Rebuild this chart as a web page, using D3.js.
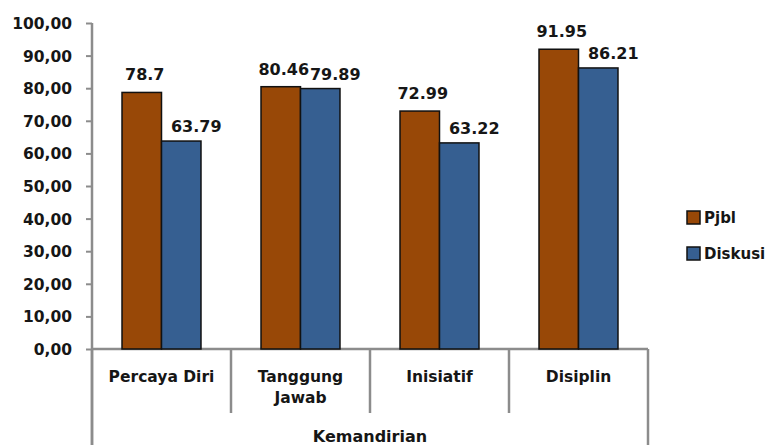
<!DOCTYPE html>
<html>
<head>
<meta charset="utf-8">
<script src="https://cdn.jsdelivr.net/npm/d3@7"></script>
<style>
  body { margin: 0; background: #fff; }
  svg text { font-family: "DejaVu Sans", "Open Sans", sans-serif; font-weight: bold; fill: #161616; }
</style>
</head>
<body>
<svg id="chart"></svg>
<script>
let width = 766;
let height = 445;

let categories = ['Percaya Diri', 'Tanggung Jawab', 'Inisiatif', 'Disiplin'];
let categoryLines = [['Percaya Diri'], ['Tanggung', 'Jawab'], ['Inisiatif'], ['Disiplin']];
let seriesNames = ['Pjbl', 'Diskusi'];
let pjbl = [78.7, 80.46, 72.99, 91.95];
let diskusi = [63.79, 79.89, 63.22, 86.21];
let pjblLabels = ['78.7', '80.46', '72.99', '91.95'];
let diskusiLabels = ['63.79', '79.89', '63.22', '86.21'];
let yTicks = [0, 10, 20, 30, 40, 50, 60, 70, 80, 90, 100];
let groupLabel = 'Kemandirian';

let colors = ['#984807', '#365F91'];
let axisColor = '#8c8c8c';
// label placement per series: horizontal shift and gap above the bar
let labelShift = { Pjbl: 3, Diskusi: 15 };
let labelGap = { Pjbl: 12, Diskusi: 9 };

let plotLeft = 92, plotRight = 648, plotTop = 23, plotBottom = 349;

let svg = d3.select('#chart').attr('width', width).attr('height', height);

let xScale = d3.scaleBand().domain(categories).range([plotLeft, plotRight]);
let xInner = d3.scaleBand().domain(seriesNames).range([0, xScale.bandwidth()]).paddingOuter(0.76);
let yScale = d3.scaleLinear().domain([0, 100]).range([plotBottom, plotTop]);

// y axis
let yAxis = d3.axisLeft(yScale)
    .tickValues(yTicks)
    .tickSize(6)
    .tickFormat((d) => d3.format('.2f')(d).replace('.', ','));

let yG = svg.append('g').attr('transform', `translate(${plotLeft}, 0)`).call(yAxis);
yG.select('.domain').remove();
yG.selectAll('line').attr('stroke', axisColor).attr('stroke-width', 2);
yG.selectAll('text')
    .attr('x', -20)
    .attr('dy', '0.36em')
    .style('font-size', '15.5px')
    .style('fill', '#161616');
yG.attr('font-family', null).attr('font-size', null);

// axis lines
svg.append('line')
    .attr('x1', plotLeft).attr('x2', plotLeft)
    .attr('y1', plotTop).attr('y2', height)
    .attr('stroke', axisColor).attr('stroke-width', 2.5);
svg.append('line')
    .attr('x1', plotLeft).attr('x2', plotRight)
    .attr('y1', plotBottom).attr('y2', plotBottom)
    .attr('stroke', axisColor).attr('stroke-width', 2.5);

// category separators
let bounds = categories.map((c) => xScale(c)).concat([plotRight]);
svg.selectAll('.sep')
    .data(bounds)
    .enter()
    .append('line')
    .attr('class', 'sep')
    .attr('x1', (d) => d).attr('x2', (d) => d)
    .attr('y1', plotBottom)
    .attr('y2', (d, i) => (i === 0 || i === bounds.length - 1) ? height : 413)
    .attr('stroke', axisColor).attr('stroke-width', 2.5);

// bars
let rows = categories.map((c, i) => ({
    cat: c,
    vals: [
        { s: 'Pjbl', v: pjbl[i], label: pjblLabels[i], color: colors[0] },
        { s: 'Diskusi', v: diskusi[i], label: diskusiLabels[i], color: colors[1] },
    ],
}));

let groups = svg.selectAll('.grp')
    .data(rows)
    .enter()
    .append('g')
    .attr('class', 'grp')
    .attr('transform', (d) => `translate(${xScale(d.cat)}, 0)`);

groups.selectAll('rect')
    .data((d) => d.vals)
    .enter()
    .append('rect')
    .attr('x', (d) => xInner(d.s))
    .attr('width', xInner.bandwidth())
    .attr('y', (d) => yScale(d.v))
    .attr('height', (d) => yScale(0) - yScale(d.v))
    .attr('fill', (d) => d.color)
    .attr('stroke', '#111')
    .attr('stroke-width', 1.5);

groups.selectAll('.val')
    .data((d) => d.vals)
    .enter()
    .append('text')
    .attr('class', 'val')
    .attr('x', (d) => xInner(d.s) + xInner.bandwidth() / 2 + labelShift[d.s])
    .attr('y', (d) => yScale(d.v) - labelGap[d.s])
    .attr('text-anchor', 'middle')
    .style('font-size', '16px')
    .text((d) => d.label);

// category labels
let catText = svg.selectAll('.cat')
    .data(categories)
    .enter()
    .append('text')
    .attr('class', 'cat')
    .attr('text-anchor', 'middle')
    .style('font-size', '15.5px')
    .attr('transform', (d) => `translate(${xScale(d) + xScale.bandwidth() / 2}, 382)`);

catText.selectAll('tspan')
    .data((d, i) => categoryLines[i])
    .enter()
    .append('tspan')
    .attr('x', 0)
    .attr('dy', (d, i) => i === 0 ? 0 : 21)
    .text((d) => d);

svg.append('text')
    .attr('x', (plotLeft + plotRight) / 2)
    .attr('y', 442)
    .attr('text-anchor', 'middle')
    .style('font-size', '16px')
    .text(groupLabel);

// legend
let legend = svg.selectAll('.leg')
    .data(seriesNames)
    .enter()
    .append('g')
    .attr('class', 'leg')
    .attr('transform', (d, i) => `translate(687, ${211 + i * 36})`);

legend.append('rect')
    .attr('width', 13).attr('height', 13)
    .attr('fill', (d, i) => colors[i])
    .attr('stroke', '#111').attr('stroke-width', 1.5);

legend.append('text')
    .attr('x', 17)
    .attr('y', 12)
    .style('font-size', '15px')
    .text((d) => d);
</script>
</body>
</html>
